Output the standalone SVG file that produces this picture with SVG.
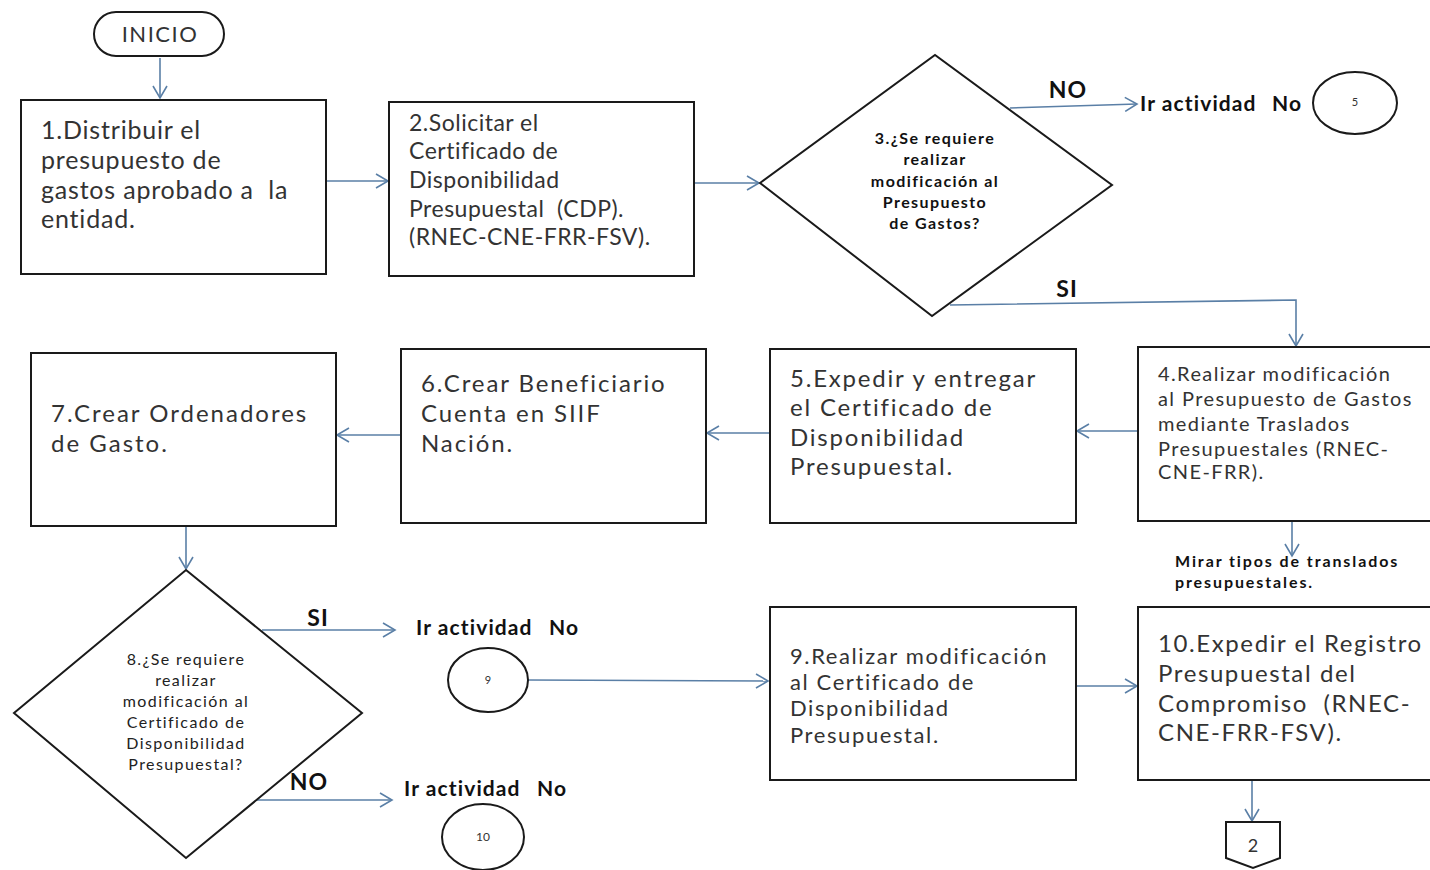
<svg xmlns="http://www.w3.org/2000/svg" width="1430" height="870" viewBox="0 0 1430 870">
<defs>
<marker id="arr" markerWidth="16" markerHeight="16" refX="13" refY="8" orient="auto" markerUnits="userSpaceOnUse">
<path d="M1,1 L13,8 L1,15" fill="none" stroke="#5a7fa6" stroke-width="1.6"/>
</marker>
</defs>
<style>
.box{fill:#fff;stroke:#1a1a1a;stroke-width:2}
.lna{fill:none;stroke:#5a7fa6;stroke-width:1.6;marker-end:url(#arr)}
.t{font-family:Lato,"Open Sans",sans-serif;fill:#333}
.b{font-family:Lato,"Open Sans",sans-serif;font-weight:bold;fill:#111}
.dq{font-family:Lato,"Open Sans",sans-serif;fill:#222;text-anchor:middle}
</style>
<rect width="1430" height="870" fill="#fff"/>
<g id="connectors">
<line class="lna" x1="160" y1="58" x2="160" y2="98"/>
<line class="lna" x1="326" y1="181" x2="388" y2="181"/>
<line class="lna" x1="694" y1="183" x2="759" y2="183"/>
<line class="lna" x1="1010" y1="108" x2="1137" y2="104"/>
<polyline class="lna" points="950,305 1296,300 1296,346"/>
<line class="lna" x1="1138" y1="431" x2="1077" y2="431"/>
<line class="lna" x1="770" y1="433" x2="707" y2="433"/>
<line class="lna" x1="401" y1="435" x2="337" y2="435"/>
<line class="lna" x1="186" y1="527" x2="186" y2="569"/>
<line class="lna" x1="262" y1="630" x2="395" y2="630"/>
<line class="lna" x1="255" y1="800" x2="392" y2="800"/>
<line class="lna" x1="528" y1="680" x2="768" y2="681"/>
<line class="lna" x1="1076" y1="686" x2="1137" y2="686"/>
<line class="lna" x1="1292" y1="521" x2="1292" y2="556"/>
<line class="lna" x1="1252" y1="780" x2="1252" y2="821"/>
</g>
<g id="inicio">
<rect class="box" x="94" y="12" width="130" height="44" rx="22" ry="22"/>
<text class="t" x="160" y="42" font-size="22" letter-spacing="1.5" text-anchor="middle">INICIO</text>
</g>
<g id="n1">
<rect class="box" x="21" y="100" width="305" height="174"/>
<text class="t" font-size="25" letter-spacing="0.8"><tspan x="41" y="139">1.Distribuir el</tspan><tspan x="41" y="169">presupuesto de</tspan><tspan x="41" y="199">gastos aprobado a&#160; la</tspan><tspan x="41" y="228">entidad.</tspan></text>
</g>
<g id="n2">
<rect class="box" x="389" y="102" width="305" height="174"/>
<text class="t" font-size="23" letter-spacing="0.5"><tspan x="409" y="131">2.Solicitar el</tspan><tspan x="409" y="159">Certificado de</tspan><tspan x="409" y="188">Disponibilidad</tspan><tspan x="409" y="217">Presupuestal&#160; (CDP).</tspan><tspan x="409" y="245">(RNEC-CNE-FRR-FSV).</tspan></text>
</g>
<g id="n3">
<polygon class="box" points="760,183 935,55 1112,185 932,316"/>
<text class="b" font-size="16" letter-spacing="1.4" text-anchor="middle"><tspan x="935" y="144">3.¿Se requiere</tspan><tspan x="935" y="165">realizar</tspan><tspan x="935" y="187">modificación al</tspan><tspan x="935" y="208">Presupuesto</tspan><tspan x="935" y="229">de Gastos?</tspan></text>
</g>
<g id="lbl-no3">
<text class="b" x="1068" y="98" font-size="23" letter-spacing="1" text-anchor="middle">NO</text>
<text class="b" font-size="21" letter-spacing="1.1"><tspan x="1140" y="111">Ir actividad</tspan><tspan x="1272" y="111">No</tspan></text>
</g>
<g id="c5">
<ellipse class="box" cx="1355" cy="103" rx="42" ry="31"/>
<text class="t" x="1355" y="106" font-size="11" text-anchor="middle">5</text>
</g>
<g id="lbl-si3">
<text class="b" x="1067" y="297" font-size="23" letter-spacing="1" text-anchor="middle">SI</text>
</g>
<g id="n4">
<rect class="box" x="1138" y="347" width="300" height="174"/>
<text class="t" font-size="20" letter-spacing="1.4"><tspan x="1158" y="381">4.Realizar modificación</tspan><tspan x="1158" y="406">al Presupuesto de Gastos</tspan><tspan x="1158" y="431">mediante Traslados</tspan><tspan x="1158" y="456">Presupuestales (RNEC-</tspan><tspan x="1158" y="479">CNE-FRR).</tspan></text>
</g>
<g id="mirar">
<text class="b" font-size="16" letter-spacing="1.9"><tspan x="1175" y="567">Mirar tipos de translados</tspan><tspan x="1175" y="588">presupuestales.</tspan></text>
</g>
<g id="n5">
<rect class="box" x="770" y="349" width="306" height="174"/>
<text class="t" font-size="24" letter-spacing="1.8"><tspan x="790" y="387">5.Expedir y entregar</tspan><tspan x="790" y="416">el Certificado de</tspan><tspan x="790" y="446">Disponibilidad</tspan><tspan x="790" y="475">Presupuestal.</tspan></text>
</g>
<g id="n6">
<rect class="box" x="401" y="349" width="305" height="174"/>
<text class="t" font-size="24" letter-spacing="1.9"><tspan x="421" y="392">6.Crear Beneficiario</tspan><tspan x="421" y="422">Cuenta en SIIF</tspan><tspan x="421" y="452">Nación.</tspan></text>
</g>
<g id="n7">
<rect class="box" x="31" y="353" width="305" height="173"/>
<text class="t" font-size="24" letter-spacing="2"><tspan x="51" y="422">7.Crear Ordenadores</tspan><tspan x="51" y="452">de Gasto.</tspan></text>
</g>
<g id="n8">
<polygon class="box" points="186,570 362,713 186,858 14,713"/>
<text class="dq" font-size="16" letter-spacing="1.4"><tspan x="186" y="665">8.¿Se requiere</tspan><tspan x="186" y="686">realizar</tspan><tspan x="186" y="707">modificación al</tspan><tspan x="186" y="728">Certificado de</tspan><tspan x="186" y="749">Disponibilidad</tspan><tspan x="186" y="770">Presupuestal?</tspan></text>
</g>
<g id="lbl-si8">
<text class="b" x="318" y="626" font-size="23" letter-spacing="1" text-anchor="middle">SI</text>
<text class="b" font-size="21" letter-spacing="1.1"><tspan x="416" y="635">Ir actividad</tspan><tspan x="549" y="635">No</tspan></text>
</g>
<g id="c9">
<ellipse class="box" cx="488" cy="680" rx="40" ry="32"/>
<text class="t" x="488" y="684" font-size="11" text-anchor="middle">9</text>
</g>
<g id="lbl-no8">
<text class="b" x="309" y="790" font-size="23" letter-spacing="1" text-anchor="middle">NO</text>
<text class="b" font-size="21" letter-spacing="1.1"><tspan x="404" y="796">Ir actividad</tspan><tspan x="537" y="796">No</tspan></text>
</g>
<g id="c10">
<ellipse class="box" cx="483" cy="837" rx="41" ry="33"/>
<text class="t" x="483" y="841" font-size="12" text-anchor="middle">10</text>
</g>
<g id="n9">
<rect class="box" x="770" y="607" width="306" height="173"/>
<text class="t" font-size="22" letter-spacing="1.6"><tspan x="790" y="664">9.Realizar modificación</tspan><tspan x="790" y="690">al Certificado de</tspan><tspan x="790" y="716">Disponibilidad</tspan><tspan x="790" y="743">Presupuestal.</tspan></text>
</g>
<g id="n10">
<rect class="box" x="1138" y="607" width="300" height="173"/>
<text class="t" font-size="24" letter-spacing="1.6"><tspan x="1158" y="652">10.Expedir el Registro</tspan><tspan x="1158" y="682">Presupuestal del</tspan><tspan x="1158" y="712">Compromiso&#160; (RNEC-</tspan><tspan x="1158" y="741">CNE-FRR-FSV).</tspan></text>
</g>
<g id="off2">
<polygon class="box" points="1226,822 1280,822 1280,858 1253,868 1226,858" stroke-width="1.6"/>
<text class="t" x="1253" y="852" font-size="18" text-anchor="middle">2</text>
</g>
</svg>
